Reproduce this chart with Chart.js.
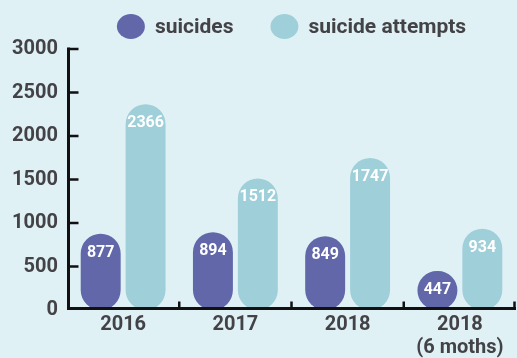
<!DOCTYPE html>
<html><head><meta charset="utf-8">
<script src="https://cdn.jsdelivr.net/npm/chart.js@4/dist/chart.umd.min.js"></script>
<style>html,body{margin:0;padding:0;background:#e0f1f6;overflow:hidden}#wrap{width:517px;height:358px}</style>
</head><body><div id="wrap"><canvas id="c" width="517" height="358"></canvas></div>
<script>
const categories = ['2016', '2017', '2018', ['2018', '(6 moths)']];
const suicides = [877, 894, 849, 447];
const suicideAttempts = [2366, 1512, 1747, 934];
const seriesNames = ['suicides', 'suicide attempts'];
const seriesColors = ['#6167a9', '#9fcfd9'];
const yMin = 0, yMax = 3000, yStep = 500;

const FONT = 'Roboto, "Noto Sans", sans-serif';
const TEXT = '#434347';

const bgPlugin = {
  id: 'bg',
  beforeDraw(chart) {
    const ctx = chart.ctx;
    ctx.save();
    ctx.fillStyle = '#e0f1f6';
    ctx.fillRect(0, 0, chart.width, chart.height);
    ctx.restore();
  }
};

const axesPlugin = {
  id: 'axes',
  afterDatasetsDraw(chart) {
    const ctx = chart.ctx, ys = chart.scales.y, xs = chart.scales.x;
    const ca = chart.chartArea;
    const x0 = ca.left + 1.5;
    const y0 = ys.getPixelForValue(0) - 1.5;
    ctx.save();
    ctx.strokeStyle = '#111';
    ctx.lineWidth = 3;
    ctx.beginPath();
    ctx.moveTo(x0, ys.getPixelForValue(yMax) - 1.5);
    ctx.lineTo(x0, y0 + 1.5);
    ctx.moveTo(ca.left, y0);
    ctx.lineTo(ca.right, y0);
    ctx.stroke();
    ctx.lineWidth = 2.5;
    ctx.beginPath();
    for (let v = yMin + yStep; v <= yMax; v += yStep) {
      const y = ys.getPixelForValue(v);
      ctx.moveTo(x0, y);
      ctx.lineTo(x0 + 10, y);
    }
    ctx.stroke();
    ctx.beginPath();
    const n = categories.length;
    for (let i = 1; i <= n; i++) {
      const x = Math.min(xs.getPixelForValue(i - 0.5), ca.right - 1.5);
      ctx.moveTo(x, y0);
      ctx.lineTo(x, y0 - 7);
    }
    ctx.stroke();
    ctx.restore();
  }
};

const labelPlugin = {
  id: 'valueLabels',
  afterDatasetsDraw(chart) {
    const ctx = chart.ctx;
    ctx.save();
    ctx.font = '700 16px ' + FONT;
    ctx.fillStyle = '#ffffff';
    ctx.textAlign = 'center';
    ctx.textBaseline = 'middle';
    chart.data.datasets.forEach((ds, di) => {
      chart.getDatasetMeta(di).data.forEach((el, i) => {
        ctx.fillText(String(ds.data[i]), el.x, el.y + 19);
      });
    });
    ctx.restore();
  }
};

const legendPlugin = {
  id: 'customLegend',
  afterDraw(chart) {
    const ctx = chart.ctx, ca = chart.chartArea;
    ctx.save();
    ctx.font = '700 21px ' + FONT;
    const mw = 28, mh = 25, gapText = 10, gapItem = 37;
    const widths = seriesNames.map(s => ctx.measureText(s).width);
    let total = 0;
    widths.forEach((w, i) => { total += mw + gapText + w + (i ? gapItem : 0); });
    let x = (ca.left + ca.right) / 2 - total / 2;
    const cy = 26.5;
    seriesNames.forEach((s, i) => {
      ctx.fillStyle = seriesColors[i];
      ctx.beginPath();
      ctx.ellipse(x + mw / 2, cy, mw / 2, mh / 2, 0, 0, Math.PI * 2);
      ctx.fill();
      ctx.fillStyle = TEXT;
      ctx.textAlign = 'left';
      ctx.textBaseline = 'middle';
      ctx.fillText(s, x + mw + gapText, cy + 1);
      x += mw + gapText + widths[i] + gapItem;
    });
    ctx.restore();
  }
};

new Chart(document.getElementById('c'), {
  type: 'bar',
  data: {
    labels: categories,
    datasets: [
      { label: seriesNames[0], data: suicides, backgroundColor: seriesColors[0] },
      { label: seriesNames[1], data: suicideAttempts, backgroundColor: seriesColors[1] }
    ]
  },
  options: {
    responsive: false,
    animation: false,
    devicePixelRatio: 1,
    layout: { padding: { top: 49, right: 1, left: 0, bottom: 0 } },
    datasets: {
      bar: {
        borderRadius: 100,
        borderSkipped: false,
        categoryPercentage: 0.8,
        barPercentage: 0.89
      }
    },
    plugins: {
      legend: { display: false },
      tooltip: { enabled: false }
    },
    scales: {
      x: {
        grid: { display: false, drawTicks: false },
        border: { display: false },
        ticks: {
          color: TEXT,
          font: { family: FONT, size: 20, weight: '700', lineHeight: 1.15 },
          padding: 3,
          maxRotation: 0,
          autoSkip: false
        },
        afterFit(s) { s.height = 48; }
      },
      y: {
        min: yMin,
        max: yMax,
        grid: { display: false, drawTicks: false },
        border: { display: false },
        ticks: {
          stepSize: yStep,
          color: TEXT,
          font: { family: FONT, size: 20, weight: '700' },
          padding: 9,
          callback: v => String(v)
        },
        afterFit(s) { s.width = 67; }
      }
    }
  },
  plugins: [bgPlugin, axesPlugin, labelPlugin, legendPlugin]
});
</script>
</body></html>
